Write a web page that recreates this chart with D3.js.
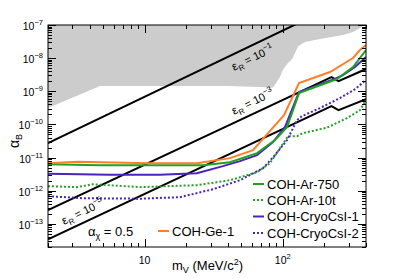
<!DOCTYPE html>
<html>
<head>
<meta charset="utf-8">
<script src="https://cdn.jsdelivr.net/npm/d3@7"></script>
<style>
  body { margin: 0; background: #fff; }
  text { font-family: "Liberation Sans", Arial, sans-serif; fill: #000; }
</style>
</head>
<body>
<script>
// excluded region (lower edge), m_V in MeV, alpha_B
var excluded = [[2,3.11e-10],[4.76,1.44e-9],[40,1.44e-9],[60,1.38e-9],[85,1.3e-9],[95,2.6e-9],[100,4.4e-9],[109,7.1e-9],[117,9.5e-9],[129,2.3e-8],[145,3.06e-8],[186,3.77e-8],[273,4.99e-8],[322,6.15e-8],[362,8.1e-8],[387,1e-7]];

var ge1 = [[2,6.77e-12],[3.3,7.5e-12],[4.76,7.26e-12],[10.9,6.77e-12],[23.9,6.77e-12],[41.5,9.6e-12],[60.9,1.67e-11],[78.2,5.46e-11],[102,1.91e-10],[131,1.77e-9],[219.6,3.8e-9],[322,1.01e-8],[362,1.76e-8],[400,2.49e-8]];
var ar750 = [[2,6.32e-12],[4.76,5.89e-12],[26.5,5.89e-12],[41.5,7.26e-12],[65.1,1.36e-11],[87.8,3.36e-11],[107.3,8.28e-11],[131,8.83e-10],[246.7,2.34e-9],[322,5.38e-9],[400,1.76e-8]];
var ar10t = [[2,1.37e-12],[3.24,1.28e-12],[4.23,1.57e-12],[9.26,1.28e-12],[23.9,1.47e-12],[41.5,2.07e-12],[65.1,3.62e-12],[80.8,6.77e-12],[95.4,1.92e-11],[109.1,4.43e-11],[126.7,4.43e-11],[140,5.46e-11],[208.9,8.0e-11],[291.4,1.55e-10],[362,2.7e-10],[400,5.42e-10]];
var csi1 = [[2,3.26e-12],[5.62,3.04e-12],[12.9,3.04e-12],[23.9,3.38e-12],[36.9,5.5e-12],[49,7.79e-12],[65.1,1.18e-11],[84.9,2.92e-11],[103.7,8.28e-11],[131,9.46e-10],[227,2.18e-9],[272.7,3.08e-9],[333,5.38e-9],[400,1.08e-8]];
var csi2 = [[2,6.82e-13],[3.58,5.94e-13],[9.26,5.73e-13],[18,6.37e-13],[31.3,1.11e-12],[49,2.07e-12],[71.9,4.78e-12],[87.8,1.18e-11],[107.3,3.36e-11],[116.6,6.73e-11],[126.7,1.35e-10],[137.7,1.78e-10],[185.9,3.11e-10],[259.4,6.24e-10],[333,1.16e-9],[400,2.18e-9]];

// relic lines for eps_R
var epsA = [[2,2.72e-11],[400,1.09e-6]];
var epsB = [[2,2.58e-13],[225,2.69e-9],[253,2.03e-9],[400,4.69e-9]];
var epsC = [[2,3.43e-14],[225,3.57e-10],[253,2.7e-10],[400,5.81e-10]];

var xMajor = [10, 100];
var xMinor = [2,3,4,5,6,7,8,9,20,30,40,50,60,70,80,90,200,300,400];
var yExp = [-13,-12,-11,-10,-9,-8,-7];

var W = 407, H = 278;
var L = 48, R = 366, T = 25, B = 247;

var svg = d3.select('body').append('svg').attr('width', W).attr('height', H);

var x = d3.scaleLog().domain([2, 400]).range([L, R]);
var y = d3.scaleLog().domain([2e-14, 1e-7]).range([B, T]);

svg.append('clipPath').attr('id','clip').append('rect')
  .attr('x', L).attr('y', T).attr('width', R-L).attr('height', B-T);

var plot = svg.append('g').attr('clip-path','url(#clip)');

plot.append('path')
  .attr('d', d3.area().x(function(d){return x(d[0]);}).y0(function(d){return y(d[1]);}).y1(T)(excluded))
  .attr('fill','#cccccc');

var line = d3.line().x(function(d){return x(d[0]);}).y(function(d){return y(d[1]);});

var curves = [
  {d: epsA, c: '#000', dash: null},
  {d: epsB, c: '#000', dash: null},
  {d: epsC, c: '#000', dash: null},
  {d: ar10t, c: '#1fa31f', dash: '2,2'},
  {d: csi2, c: '#4b22c2', dash: '2,2'},
  {d: csi1, c: '#4b22c2', dash: null},
  {d: ar750, c: '#1fa31f', dash: null},
  {d: ge1, c: '#ff7f27', dash: null}
];
curves.forEach(function(s){
  plot.append('path').attr('d', line(s.d))
    .attr('fill','none').attr('stroke', s.c).attr('stroke-width', 2)
    .attr('stroke-dasharray', s.dash);
});

// frame and ticks (ticks point inward on all four sides)
svg.append('rect').attr('x', L).attr('y', T).attr('width', R-L).attr('height', B-T)
  .attr('fill','none').attr('stroke','#000').attr('stroke-width',1);

var tk = svg.append('g').attr('stroke','#000').attr('stroke-width',1);
function xTicks(vals, len) {
  vals.forEach(function(v){
    var px = Math.round(x(v)) + 0.5;
    tk.append('line').attr('x1',px).attr('x2',px).attr('y1',B).attr('y2',B-len);
    tk.append('line').attr('x1',px).attr('x2',px).attr('y1',T).attr('y2',T+len);
  });
}
xTicks(xMajor, 8);
xTicks(xMinor, 4);

yExp.forEach(function(e){
  var py = Math.round(y(Math.pow(10,e))) + 0.5;
  tk.append('line').attr('x1',L).attr('x2',L+8).attr('y1',py).attr('y2',py);
  tk.append('line').attr('x1',R).attr('x2',R-8).attr('y1',py).attr('y2',py);
});
d3.range(-14, -7).forEach(function(e){
  d3.range(2,10).forEach(function(k){
    var v = k*Math.pow(10,e);
    if (v < 2e-14 || v > 1e-7) return;
    var py = Math.round(y(v)) + 0.5;
    tk.append('line').attr('x1',L).attr('x2',L+4).attr('y1',py).attr('y2',py);
    tk.append('line').attr('x1',R).attr('x2',R-4).attr('y1',py).attr('y2',py);
  });
});

// tick labels
yExp.forEach(function(e){
  var t = svg.append('text').attr('x', 43).attr('y', y(Math.pow(10,e)) + 5)
    .attr('text-anchor','end').attr('font-size', 10.5);
  t.append('tspan').text('10');
  t.append('tspan').attr('dy',-5).attr('font-size',7.5).text('\u2212' + Math.abs(e));
});
svg.append('text').attr('x', x(10)).attr('y', 264).attr('text-anchor','middle')
  .attr('font-size',10.5).text('10');
var t2 = svg.append('text').attr('x', x(100)).attr('y', 264).attr('text-anchor','middle').attr('font-size',10.5);
t2.append('tspan').text('10');
t2.append('tspan').attr('dy',-5).attr('font-size',7.5).text('2');

// axis titles
var xt = svg.append('text').attr('x', 172).attr('y', 270).attr('font-size', 13);
xt.append('tspan').text('m');
xt.append('tspan').attr('dy',3).attr('font-size',9).text('V');
xt.append('tspan').attr('dy',-3).text(' (MeV/c');
xt.append('tspan').attr('dy',-5).attr('font-size',9).text('2');
xt.append('tspan').attr('dy',5).text(')');

var yt = svg.append('text').attr('transform','translate(19,148) rotate(-90)').attr('font-size', 14);
yt.append('tspan').text('\u03b1');
yt.append('tspan').attr('dy',3).attr('font-size',9).text('B');

// eps_R labels
function epsLabel(px, py, exp) {
  var t = svg.append('text').attr('transform','translate(' + px + ',' + py + ') rotate(-26)')
    .attr('font-size', 11);
  t.append('tspan').attr('font-size', 12).text('\u03b5');
  t.append('tspan').attr('dy',3).attr('font-size',8).text('R');
  t.append('tspan').attr('dy',-3).text(' = 10');
  t.append('tspan').attr('dy',-5).attr('font-size',8).text('\u2212' + exp);
}
epsLabel(234, 71, 1);
epsLabel(234, 115, 3);
epsLabel(64, 225, 5);

var ax = svg.append('text').attr('x', 88).attr('y', 236).attr('font-size', 13);
ax.append('tspan').text('\u03b1');
ax.append('tspan').attr('dy',3).attr('font-size',9).text('\u03c7');
ax.append('tspan').attr('dy',-3).text(' = 0.5');

// legend
var legend = [
  {name: 'COH-Ar-750', c: '#1fa31f', dash: null, x: 253, y: 184},
  {name: 'COH-Ar-10t', c: '#1fa31f', dash: '2,2', x: 253, y: 200},
  {name: 'COH-CryoCsI-1', c: '#4b22c2', dash: null, x: 253, y: 216.5},
  {name: 'COH-CryoCsI-2', c: '#4b22c2', dash: '2,2', x: 253, y: 233},
  {name: 'COH-Ge-1', c: '#ff7f27', dash: null, x: 158, y: 231}
];
legend.forEach(function(d){
  svg.append('line').attr('x1', d.x).attr('x2', d.x + 11).attr('y1', d.y).attr('y2', d.y)
    .attr('stroke', d.c).attr('stroke-width', 2).attr('stroke-dasharray', d.dash);
  svg.append('text').attr('x', d.x + 14).attr('y', d.y + 4.5).attr('font-size', 13).text(d.name);
});
</script>
</body>
</html>
